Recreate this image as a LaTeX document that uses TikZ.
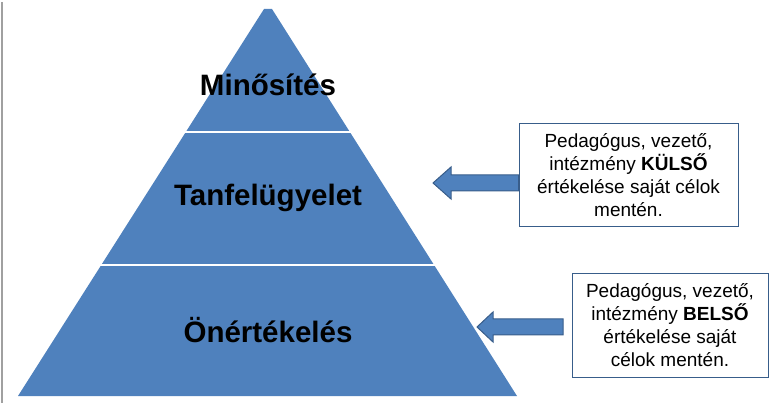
\documentclass[tikz,border=0pt]{standalone}
\usepackage{fontspec}
\setmainfont{Liberation Sans}
\usepackage{xcolor}
\usepackage{tikz}
\usetikzlibrary{positioning,calc}
\definecolor{pyrblue}{RGB}{79,129,189}
\definecolor{edgeblue}{RGB}{56,93,138}
\definecolor{rulegray}{RGB}{160,160,160}
\tikzset{
  pyrlabel/.style={font=\fontsize{29.5}{35}\selectfont\bfseries, text=black, inner sep=0pt},
  notebox/.style={draw=edgeblue, line width=1pt, fill=white, align=center,
                  inner sep=0pt, font=\fontsize{19}{23}\selectfont},
  blockarrow/.style={fill=pyrblue, draw=edgeblue, line width=1pt, line join=miter},
  divider/.style={white, line width=2.5pt},
}

\begin{document}
\begin{tikzpicture}[x=1pt, y=1pt]
  \useasboundingbox (0,0) rectangle (774,-403);

  % left rule
  \draw[rulegray, line width=2pt] (2,-2) -- (2,-403);

  % pyramid
  \fill[pyrblue] (18,-396) -- (264,-9) -- (272,-9) -- (517,-396) -- cycle;
  \draw[divider] (10,-132) -- (530,-132);
  \draw[divider] (10,-265) -- (530,-265);

  \node[pyrlabel] (minosites) at (268,-85)  {Minősítés};
  \node[pyrlabel] (tanfelugy) at (268,-198) {Tanfelügyelet};
  \node[pyrlabel] (onert)     at (268,-330) {Önértékelés};

  % side notes
  \node[notebox, minimum width=219pt, minimum height=103pt] (kulso) at (628.5,-175.5)
    {Pedagógus, vezető,\\intézmény \textbf{KÜLSŐ}\\értékelése saját célok\\mentén.};
  \node[notebox, minimum width=196pt, minimum height=103pt] (belso) at (670,-325.5)
    {Pedagógus, vezető,\\intézmény \textbf{BELSŐ}\\értékelése saját\\célok mentén.};

  % block arrows
  \coordinate (tip1) at (433,-183);
  \coordinate (tip2) at (477,-327);
  \draw[blockarrow] (tip1) -- ++(18,16) -- ++(0,-8) -- (kulso.west |- 0,-175)
    -- (kulso.west |- 0,-191) -- (451,-191) -- (451,-199) -- cycle;
  \draw[blockarrow] (tip2) -- ++(16,15) -- ++(0,-7) -- (563,-319)
    -- (563,-335) -- (493,-335) -- (493,-342) -- cycle;
\end{tikzpicture}
\end{document}
